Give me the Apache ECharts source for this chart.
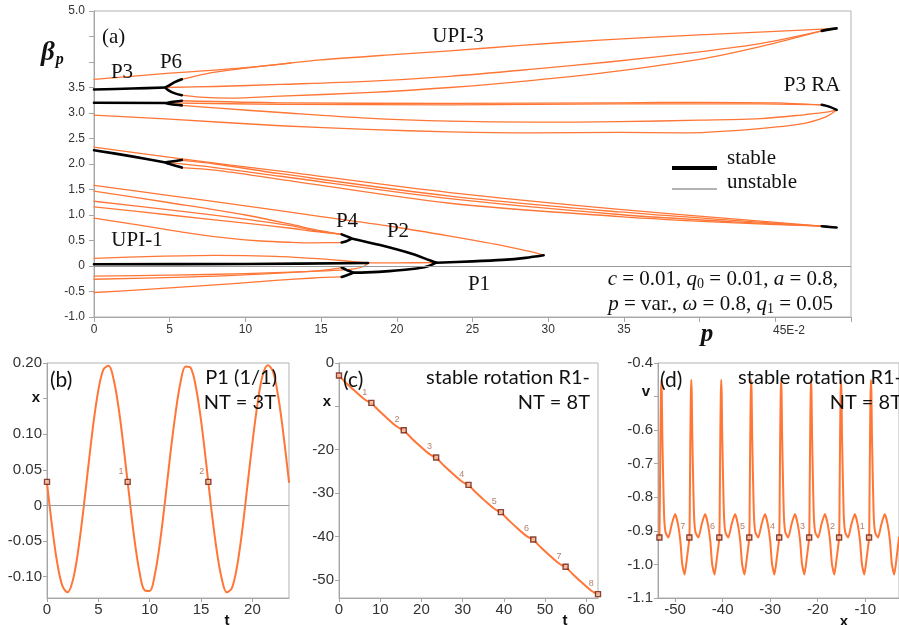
<!DOCTYPE html>
<html><head><meta charset="utf-8">
<script src="https://cdn.jsdelivr.net/npm/echarts@6.0.0/dist/echarts.min.js"></script>
<style>html,body{margin:0;padding:0;background:#fff}#c{width:899px;height:625px}</style>
</head><body><div id="c"></div>
<script>
// ---------- Panel (a): bifurcation branches [p (x100), beta_p] ----------
// unstable (orange)
const T1 = [[0,3.66],[5,3.78],[10,3.89],[15,4.04],[20,4.15],[23.5,4.22],[28,4.32],[33.4,4.43],[40,4.53],[45,4.60],[49.05,4.66]];
const P6up = [[5.8,3.66],[6.5,3.71],[8,3.80],[10,3.88],[13,3.98]];
const A3 = [[4.73,3.50],[8,3.52],[12.3,3.56],[18,3.62],[23.5,3.72],[29,3.86],[34,4.00],[40,4.20],[44,4.36],[48.07,4.61]];
const B3 = [[5.8,3.35],[7,3.31],[9,3.29],[12.3,3.33],[18,3.40],[23.5,3.50],[29,3.64],[34,3.80],[40,4.05],[44,4.30],[48.07,4.61]];
const C1 = [[5.8,3.24],[12.3,3.20],[23.5,3.19],[34.7,3.20],[40,3.21],[45,3.20],[48.07,3.16]];
const C2 = [[4.73,3.20],[12.3,3.17],[23.5,3.16],[34.7,3.18],[44,3.18],[48.07,3.16]];
const C3 = [[5.8,3.15],[8,3.10],[12.3,3.01],[18,2.90],[23.5,2.84],[29,2.82],[34.7,2.83],[40,2.86],[44,2.89],[47,2.97],[48.5,3.02],[49.05,3.06]];
const C4 = [[0,2.96],[5,2.88],[12.3,2.75],[18,2.68],[23.5,2.63],[29,2.61],[34.7,2.62],[38.9,2.61],[43,2.67],[46.6,2.78],[48.3,2.92],[49.05,3.06]];
const M1 = [[0,2.33],[5.8,2.10],[12.3,1.86],[23.5,1.44],[34.7,1.11],[42,0.93],[48.07,0.78]];
const M2 = [[5.8,2.07],[8,2.0],[12.3,1.81],[23.5,1.37],[34.7,1.06],[42,0.90],[48.07,0.78]];
const M3 = [[4.73,2.03],[8,1.93],[12.3,1.76],[23.5,1.32],[34.7,1.01],[42,0.87],[48.07,0.78]];
const M4 = [[5.8,1.93],[8,1.88],[12.3,1.70],[23.5,1.23],[34.7,0.97],[42,0.85],[48.07,0.78]];
const L0 = [[0,1.58],[5,1.38],[10,1.18],[15,0.97],[20,0.76],[24,0.56],[27,0.40],[29,0.27],[29.7,0.21]];
const U1 = [[0,1.47],[5,1.24],[10,1.0],[13,0.82],[14.5,0.72],[16.36,0.62]];
const U2 = [[0,1.27],[5,1.10],[10,0.92],[13,0.79],[14.5,0.70],[16.36,0.62]];
const U3 = [[0,1.16],[5,1.0],[10,0.84],[13,0.74],[14.5,0.68],[16.36,0.62]];
const U4 = [[0,0.94],[3,0.80],[6.6,0.63],[9,0.54],[11,0.49],[13,0.465],[14.5,0.455],[16.36,0.46]];
const L1 = [[0,0.15],[4,0.19],[8,0.21],[12,0.19],[15,0.14],[17,0.09],[18.1,0.06]];
const L2 = [[18.1,0.06],[17.8,-0.01],[17.2,-0.055],[16.3,-0.08],[14,-0.11],[10,-0.15],[5,-0.18],[0,-0.20]];
const L3 = [[0,-0.26],[6,-0.22],[11,-0.16],[14,-0.11],[15.5,-0.07],[16.36,-0.03]];
const L4 = [[0,-0.52],[3,-0.47],[6,-0.41],[9,-0.35],[12,-0.28],[14.5,-0.235],[16.36,-0.215]];
const P1mid = [[18.1,0.06],[20,0.062],[22.6,0.065]];
// stable (black)
const K1 = [[0,3.46],[2.5,3.48],[4.73,3.50]];
const K1a = [[5.8,3.66],[5.3,3.60],[4.9,3.53],[4.73,3.50],[4.9,3.45],[5.3,3.39],[5.8,3.35]];
const K2 = [[0,3.20],[4.73,3.195]];
const K2a = [[5.8,3.24],[5.1,3.215],[4.73,3.195],[5.1,3.17],[5.8,3.15]];
const K3 = [[0,2.27],[2.5,2.15],[4.73,2.03]];
const K3a = [[5.8,2.08],[5.1,2.05],[4.73,2.03],[5.1,1.99],[5.8,1.93]];
const K4 = [[16.36,0.62],[16.7,0.58],[17.0,0.54],[16.7,0.49],[16.36,0.46]];
const K5 = [[17.0,0.54],[18.9,0.41],[21.1,0.23],[22.0,0.13],[22.6,0.065]];
const K6 = [[22.6,0.065],[22.0,-0.01],[21.0,-0.06],[19.5,-0.10],[18,-0.125],[17.1,-0.13]];
const K7 = [[16.36,-0.03],[16.7,-0.08],[17.1,-0.13],[16.7,-0.18],[16.36,-0.215]];
const K8 = [[0,0.035],[10,0.04],[18.1,0.06]];
const K9 = [[22.6,0.065],[25,0.09],[27,0.12],[28.5,0.16],[29.7,0.21]];
const K10 = [[48.07,4.61],[48.6,4.64],[49.05,4.66]];
const K11 = [[48.07,3.16],[48.6,3.12],[49.05,3.06]];
const K12 = [[48.07,0.78],[48.6,0.765],[49.05,0.755]];

// ---------- Panel (b): x(t), P1 ----------
const bCurve = [[0,0.032],[0.5,-0.030],[1,-0.081],[1.5,-0.113],[2,-0.122],[2.5,-0.106],[3,-0.067],[3.5,-0.011],[4,0.052],[4.5,0.113],[5,0.162],[5.5,0.191],[6,0.196],[6.5,0.176],[7,0.134],[7.5,0.077],[8,0.014],[8.5,-0.046],[9,-0.093],[9.5,-0.119],[10,-0.120],[10.5,-0.097],[11,-0.052],[11.5,0.007],[12,0.071],[12.5,0.128],[13,0.173],[13.5,0.195],[14,0.193],[14.5,0.166],[15,0.119],[15.5,0.059],[16,-0.005],[16.5,-0.061],[17,-0.102],[17.5,-0.122],[18,-0.116],[18.5,-0.086],[19,-0.036],[19.5,0.026],[20,0.088],[20.5,0.143],[21,0.183],[21.5,0.197],[22,0.188],[22.5,0.154],[23,0.102],[23.56,0.033]];
const bPts = [[0,0.033],[7.854,0.033],[15.708,0.033]];
const bPtLabels = ['', '1', '2'];

// ---------- Panel (c): x(t), rotation ----------
const cCurve = [[0,-2.9],[1,-3.9],[2,-4.85],[4,-6.6],[6,-8.25],[7,-8.85],
 [7.85,-9.2],[8.85,-10.2],[9.85,-11.15],[11.85,-12.9],[13.85,-14.55],[14.85,-15.15],
 [15.71,-15.5],[16.71,-16.5],[17.71,-17.45],[19.71,-19.2],[21.71,-20.85],[22.71,-21.45],
 [23.56,-21.8],[24.56,-22.8],[25.56,-23.75],[27.56,-25.5],[29.56,-27.15],[30.56,-27.75],
 [31.42,-28.1],[32.42,-29.1],[33.42,-30.05],[35.42,-31.8],[37.42,-33.45],[38.42,-34.05],
 [39.27,-34.4],[40.27,-35.4],[41.27,-36.35],[43.27,-38.1],[45.27,-39.75],[46.27,-40.35],
 [47.12,-40.7],[48.12,-41.7],[49.12,-42.65],[51.12,-44.4],[53.12,-46.05],[54.12,-46.65],
 [54.98,-47.0],[55.98,-48.0],[56.98,-48.95],[58.98,-50.7],[60.98,-52.35],[61.98,-52.95],
 [62.83,-53.3]];
const cPts = [[0,-2.9],[7.854,-9.2],[15.708,-15.5],[23.562,-21.8],[31.416,-28.1],[39.27,-34.4],[47.124,-40.7],[54.978,-47.0],[62.832,-53.3]];
const cPtLabels = ['', '1','2','3','4','5','6','7','8'];

// ---------- Panel (d): v(x), rotation ----------
const dX = [
 -53.3,-53.2,-53.1,-53.0,-52.9,-52.8,-52.7,-52.5,-52.3,-52.0,-51.4,-50.7,-50.0,-49.4,-48.9,-48.5,-48.0,-47.5,
 -47.0,-46.9,-46.8,-46.7,-46.6,-46.5,-46.4,-46.2,-46.0,-45.7,-45.1,-44.4,-43.7,-43.1,-42.6,-42.2,-41.7,-41.2,
 -40.7,-40.6,-40.5,-40.4,-40.3,-40.2,-40.1,-39.9,-39.7,-39.4,-38.8,-38.1,-37.4,-36.8,-36.3,-35.9,-35.4,-34.9,
 -34.4,-34.3,-34.2,-34.1,-34.0,-33.9,-33.8,-33.6,-33.4,-33.1,-32.5,-31.8,-31.1,-30.5,-30.0,-29.6,-29.1,-28.6,
 -28.1,-28.0,-27.9,-27.8,-27.7,-27.6,-27.5,-27.3,-27.1,-26.8,-26.2,-25.5,-24.8,-24.2,-23.7,-23.3,-22.8,-22.3,
 -21.8,-21.7,-21.6,-21.5,-21.4,-21.3,-21.2,-21.0,-20.8,-20.5,-19.9,-19.2,-18.5,-17.9,-17.4,-17.0,-16.5,-16.0,
 -15.5,-15.4,-15.3,-15.2,-15.1,-15.0,-14.9,-14.7,-14.5,-14.2,-13.6,-12.9,-12.2,-11.6,-11.1,-10.7,-10.2,-9.7,
 -9.2,-9.1,-9.0,-8.9,-8.8,-8.7,-8.6,-8.4,-8.2,-7.9,-7.3,-6.6,-5.9,-5.3,-4.8,-4.4,-3.9,-3.4,
 -2.9];
const dV = [
 -0.92,-0.80,-0.63,-0.505,-0.45,-0.49,-0.61,-0.75,-0.86,-0.905,-0.92,-0.88,-0.85,-0.88,-0.93,-1.00,-1.03,-0.98,
 -0.92,-0.80,-0.63,-0.505,-0.45,-0.49,-0.61,-0.75,-0.86,-0.905,-0.92,-0.88,-0.85,-0.88,-0.93,-1.00,-1.03,-0.98,
 -0.92,-0.80,-0.63,-0.505,-0.45,-0.49,-0.61,-0.75,-0.86,-0.905,-0.92,-0.88,-0.85,-0.88,-0.93,-1.00,-1.03,-0.98,
 -0.92,-0.80,-0.63,-0.505,-0.45,-0.49,-0.61,-0.75,-0.86,-0.905,-0.92,-0.88,-0.85,-0.88,-0.93,-1.00,-1.03,-0.98,
 -0.92,-0.80,-0.63,-0.505,-0.45,-0.49,-0.61,-0.75,-0.86,-0.905,-0.92,-0.88,-0.85,-0.88,-0.93,-1.00,-1.03,-0.98,
 -0.92,-0.80,-0.63,-0.505,-0.45,-0.49,-0.61,-0.75,-0.86,-0.905,-0.92,-0.88,-0.85,-0.88,-0.93,-1.00,-1.03,-0.98,
 -0.92,-0.80,-0.63,-0.505,-0.45,-0.49,-0.61,-0.75,-0.86,-0.905,-0.92,-0.88,-0.85,-0.88,-0.93,-1.00,-1.03,-0.98,
 -0.92,-0.80,-0.63,-0.505,-0.45,-0.49,-0.61,-0.75,-0.86,-0.905,-0.92,-0.88,-0.85,-0.88,-0.93,-1.00,-1.03,-0.98,
 -0.92];
const dPts = [[-53.3,-0.92],[-47.0,-0.92],[-40.7,-0.92],[-34.4,-0.92],[-28.1,-0.92],[-21.8,-0.92],[-15.5,-0.92],[-9.2,-0.92]];
const dPtLabels = ['', '7','6','5','4','3','2','1'];

// ---------- tick values ----------
const bXTicks = [0,5,10,15,20];
const bYTicks = [-0.10,-0.05,0,0.05,0.10,0.15,0.20];
const cXTicks = [0,10,20,30,40,50,60];
const cYTicks = [-50,-40,-30,-20,-10,0];
const dXTicks = [-50,-40,-30,-20,-10];
const dYTicks = [-1.1,-1.0,-0.9,-0.8,-0.7,-0.6,-0.5,-0.4];

// ---------- styles ----------
const ORANGE = '#ff7636';
const SERIF = '"Liberation Serif","Times New Roman",serif';
const SANS = '"Liberation Sans",Arial,sans-serif';
const CAL = 'Lato,"Open Sans",sans-serif';
const AX = '#a6a6a6';

const chart = echarts.init(document.getElementById('c'), null, {renderer: 'canvas'});

function near(a, b) { return Math.abs(a - b) < 1e-6; }
function axisBase(gi, extra) {
  return Object.assign({
    gridIndex: gi, type: 'value',
    axisLine: {show: true, onZero: false, lineStyle: {color: AX, width: 1}},
    axisTick: {show: true, length: 5, lineStyle: {color: AX}},
    splitLine: {show: false},
  }, extra);
}
function branch(data, color, width, z) {
  return {type: 'line', xAxisIndex: 0, yAxisIndex: 0, data: data, showSymbol: false, symbol: 'none',
    smooth: 0.3, silent: true, animation: false, z: z,
    lineStyle: {color: color, width: width, join: 'round', cap: 'round'}};
}
const orangeSet = [T1, P6up, A3, B3, C1, C2, C3, C4, M1, M2, M3, M4, L0, U1, U2, U3, U4, L1, L2, L3, L4, P1mid];
const blackSet = [K1, K1a, K2, K2a, K3, K3a, K4, K5, K6, K7, K8, K9, K10, K11, K12];

const series = [];
series.push({type: 'line', xAxisIndex: 0, yAxisIndex: 0, data: [], silent: true, animation: false,
  markLine: {silent: true, symbol: 'none', animation: false, label: {show: false},
    lineStyle: {color: '#9a9a9a', width: 1.2, type: 'solid'}, data: [{yAxis: 0}]}});
orangeSet.forEach(d => series.push(branch(d, ORANGE, 1.3, 2)));
blackSet.forEach(d => series.push(branch(d, '#000', 2.6, 3)));

function curve(idx, data, sm) {
  return {type: 'line', xAxisIndex: idx, yAxisIndex: idx, data: data, showSymbol: false, symbol: 'none',
    smooth: sm, silent: true, animation: false, z: 2,
    lineStyle: {color: ORANGE, width: 2, join: 'round', cap: 'round'}};
}
function pts(idx, data, labels) {
  return {type: 'scatter', xAxisIndex: idx, yAxisIndex: idx, symbol: 'rect', symbolSize: 5, z: 4,
    silent: true, animation: false,
    data: data.map((p, i) => ({name: labels[i], value: p})),
    itemStyle: {color: '#f6c2a4', borderColor: '#6e1a0c', borderWidth: 1.4},
    label: {show: true, formatter: '{b}', position: [-6, -12], fontSize: 9, color: '#a0604a', fontFamily: SANS}};
}
const bSeries = curve(1, bCurve, 0.35);
bSeries.markLine = {silent: true, symbol: 'none', animation: false, label: {show: false},
  lineStyle: {color: '#9a9a9a', width: 1, type: 'solid'}, data: [{yAxis: 0}]};
series.push(bSeries, pts(1, bPts, bPtLabels));
series.push(curve(2, cCurve, 0.35), pts(2, cPts, cPtLabels));
series.push(curve(3, dX.map((x, i) => [x, dV[i]]), 0.18), pts(3, dPts, dPtLabels));

const lblA = {fontSize: 12, color: '#333', fontFamily: SANS};
const lblB = {fontSize: 15, color: '#333', fontFamily: SANS, margin: 5};

const grids = [
  {left: 94, top: 11, width: 757, height: 306},
  {left: 47, top: 363, width: 242, height: 235},
  {left: 339, top: 363, width: 259, height: 235},
  {left: 658, top: 363, width: 250, height: 235},
].map(g => Object.assign(g, {show: true, borderColor: '#b3b3b3', borderWidth: 1, containLabel: false}));

function tk(vals) { return {show: true, length: 4, lineStyle: {color: AX}, customValues: vals}; }
const xAxes = [
  axisBase(0, {min: 0, max: 50, interval: 5,
    axisLabel: Object.assign({margin: 7, formatter: v => v <= 35 ? String(v) : ''}, lblA)}),
  axisBase(1, {min: 0, max: 23.562, axisTick: tk(bXTicks),
    axisLabel: Object.assign({customValues: bXTicks, formatter: v => String(v)}, lblB, {margin: 4})}),
  axisBase(2, {min: 0, max: 62.832, axisTick: tk(cXTicks),
    axisLabel: Object.assign({customValues: cXTicks, formatter: v => String(v)}, lblB, {margin: 4})}),
  axisBase(3, {min: -53.6, max: -2.9, axisTick: tk(dXTicks),
    axisLabel: Object.assign({customValues: dXTicks, formatter: v => String(v)}, lblB, {margin: 4})}),
];
const yAxes = [
  axisBase(0, {min: -1, max: 5, interval: 0.5,
    axisLabel: Object.assign({margin: 9, formatter: v => (near(v, 4) || near(v, 4.5)) ? '' : (near(v, 0) ? '0' : v.toFixed(1))}, lblA)}),
  axisBase(1, {min: -0.13, max: 0.20, axisTick: tk(bYTicks),
    axisLabel: Object.assign({customValues: bYTicks, formatter: v => near(v, 0.15) ? '' : (near(v, 0) ? '0' : v.toFixed(2))}, lblB)}),
  axisBase(2, {min: -54.2, max: 0, axisTick: tk(cYTicks),
    axisLabel: Object.assign({customValues: cYTicks, formatter: v => near(v, -10) ? '' : String(v)}, lblB)}),
  axisBase(3, {min: -1.1, max: -0.4, axisTick: tk(dYTicks),
    axisLabel: Object.assign({customValues: dYTicks, formatter: v => near(v, -0.5) ? '' : v.toFixed(1)}, lblB)}),
];

function txt(x, y, text, opt) {
  const s = Object.assign({text: text, fill: '#111', fontFamily: SERIF, fontSize: 21,
    align: 'center', verticalAlign: 'middle', legacy: false}, opt || {});
  return {type: 'text', x: x, y: y, silent: true, z: 10, style: s};
}
const L = {align: 'left'}, R = {align: 'right'};
function o() { return Object.assign.apply(null, [{}].concat(Array.from(arguments))); }
const subRich = {
  i: {fontFamily: SERIF, fontSize: 21, fontStyle: 'italic', lineHeight: 24},
  n: {fontFamily: SERIF, fontSize: 21, lineHeight: 24},
  s: {fontFamily: SERIF, fontSize: 14, lineHeight: 24, verticalAlign: 'bottom'}};
const graphics = [
  // panel (a)
  txt(102, 37, '(a)', L),
  txt(41, 53, '{b|β}{s|p}', o({rich: {
    b: {fontFamily: SERIF, fontSize: 27, fontWeight: 'bold', fontStyle: 'italic', lineHeight: 30},
    s: {fontFamily: SERIF, fontSize: 16, fontWeight: 'bold', fontStyle: 'italic', lineHeight: 30, verticalAlign: 'bottom', padding: [0, 0, 0, 1]}}}, L)),
  txt(122, 72, 'P3'), txt(171, 62, 'P6'), txt(458, 36, 'UPI-3'), txt(812, 85, 'P3 RA'),
  txt(347, 221, 'P4'), txt(398, 231, 'P2'), txt(137, 240, 'UPI-1'), txt(479, 284, 'P1'),
  txt(727, 158, 'stable', L), txt(727, 182, 'unstable', L),
  txt(838, 279, '{i|c}{n| = 0.01, }{i|q}{s|0}{n| = 0.01, }{i|a}{n| = 0.8,}', o({rich: subRich}, R)),
  txt(833, 304, '{i|p}{n| = var., }{i|ω}{n| = 0.8, }{i|q}{s|1}{n| = 0.05}', o({rich: subRich}, R)),
  txt(707, 335, 'p', {fontSize: 25, fontWeight: 'bold', fontStyle: 'italic'}),
  txt(773, 331, '45E-2', o({fontFamily: SANS, fontSize: 12, fill: '#333'}, L)),
  {type: 'line', silent: true, z: 10, shape: {x1: 672, y1: 168, x2: 717, y2: 168}, style: {stroke: '#000', lineWidth: 4}},
  {type: 'line', silent: true, z: 10, shape: {x1: 672, y1: 189, x2: 717, y2: 189}, style: {stroke: '#9a9a9a', lineWidth: 1.6}},
  // panel (b)
  txt(50, 380, '(b)', o({fontFamily: CAL, fontSize: 21}, L)),
  txt(277, 378, 'P1 (1/1)', o({fontFamily: CAL, fontSize: 20}, R)),
  txt(276, 403, 'NT = 3T', o({fontFamily: CAL, fontSize: 20}, R)),
  txt(36, 398, 'x', {fontFamily: SANS, fontSize: 15, fontWeight: 'bold'}),
  txt(227, 621, 't', {fontFamily: SANS, fontSize: 15, fontWeight: 'bold'}),
  // panel (c)
  txt(343, 380, '(c)', o({fontFamily: CAL, fontSize: 21}, L)),
  txt(590, 378, 'stable rotation R1-', o({fontFamily: CAL, fontSize: 20}, R)),
  txt(590, 403, 'NT = 8T', o({fontFamily: CAL, fontSize: 20}, R)),
  txt(327, 402, 'x', {fontFamily: SANS, fontSize: 15, fontWeight: 'bold'}),
  txt(565, 621, 't', {fontFamily: SANS, fontSize: 15, fontWeight: 'bold'}),
  // panel (d)
  txt(660, 380, '(d)', o({fontFamily: CAL, fontSize: 21}, L)),
  txt(902, 378, 'stable rotation R1-', o({fontFamily: CAL, fontSize: 20}, R)),
  txt(902, 403, 'NT = 8T', o({fontFamily: CAL, fontSize: 20}, R)),
  txt(646, 392, 'v', {fontFamily: SANS, fontSize: 15, fontWeight: 'bold'}),
  txt(844, 622, 'x', {fontFamily: SANS, fontSize: 15, fontWeight: 'bold'}),
];

chart.setOption({
  animation: false,
  backgroundColor: '#fff',
  grid: grids,
  xAxis: xAxes,
  yAxis: yAxes,
  series: series,
  graphic: {elements: graphics},
});
</script></body></html>
